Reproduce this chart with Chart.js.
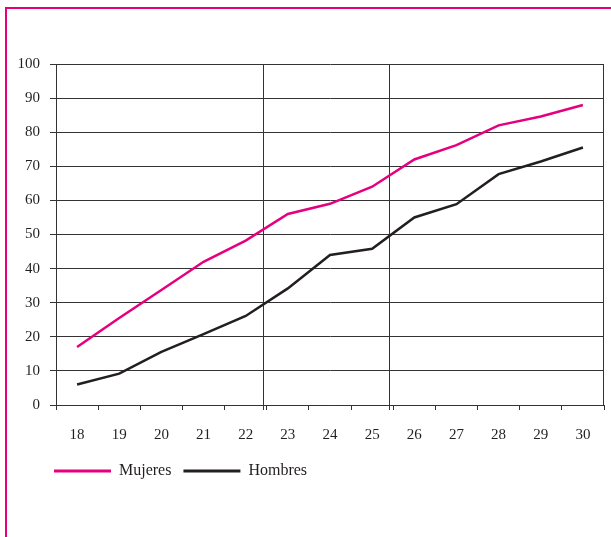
<!DOCTYPE html>
<html>
<head>
<meta charset="utf-8">
<script src="https://cdn.jsdelivr.net/npm/chart.js@4"></script>
<style>
  html, body { margin: 0; padding: 0; background: #fff; overflow: hidden; }
  #frame { position: absolute; left: 5px; top: 7px; width: 700px; height: 600px;
           border-top: 2px solid #e6007e; border-left: 2px solid #e6007e; }
  #c { position: absolute; left: 0; top: 0; }
</style>
</head>
<body>
<div id="frame"></div>
<canvas id="c" width="611" height="537"></canvas>
<script>
// edades
const labels = ['18', '19', '20', '21', '22', '23', '24', '25', '26', '27', '28', '29', '30'];
// porcentajes
const mujeres = [17, 25.5, 33.7, 42, 48.2, 56, 59, 64, 72, 76.2, 82, 84.6, 88];
const hombres = [6, 9.2, 15.6, 20.8, 26.1, 34.2, 44, 45.8, 55, 58.9, 67.7, 71.4, 75.5];
// separadores verticales despues de estas edades
const cortes = ['22', '25'];

const gridColor = '#333';
const font = { family: '"Liberation Serif", "DejaVu Serif", serif', size: 15 };

const extras = {
  id: 'extras',
  afterLayout(chart) {
    // la leyenda empieza casi bajo el eje y
    chart.legend.left += 42;
  },
  beforeDatasetsDraw(chart) {
    const { ctx, chartArea: a, scales: { x } } = chart;
    ctx.save();
    ctx.strokeStyle = gridColor;
    ctx.lineWidth = 1;
    cortes.forEach(l => {
      const px = Math.round(x.getPixelForValue(labels.indexOf(l) + 0.4)) + 0.5;
      ctx.beginPath();
      ctx.moveTo(px, a.top);
      ctx.lineTo(px, a.bottom + 5);
      ctx.stroke();
    });
    const r = Math.round(a.right) - 0.5;
    ctx.beginPath();
    ctx.moveTo(r, a.top);
    ctx.lineTo(r, a.bottom);
    ctx.stroke();
    ctx.restore();
  }
};

new Chart(document.getElementById('c'), {
  type: 'line',
  data: {
    labels: labels,
    datasets: [
      { label: 'Mujeres', data: mujeres, borderColor: '#e6007e', backgroundColor: '#e6007e',
        borderWidth: 2.5, pointRadius: 0, tension: 0 },
      { label: 'Hombres', data: hombres, borderColor: '#231f20', backgroundColor: '#231f20',
        borderWidth: 2.5, pointRadius: 0, tension: 0 }
    ]
  },
  options: {
    responsive: false,
    animation: false,
    layout: { padding: { left: 0, top: 64, right: 7, bottom: 48 } },
    plugins: {
      tooltip: { enabled: false },
      legend: {
        position: 'bottom',
        align: 'start',
        labels: {
          boxWidth: 57,
          boxHeight: 3,
          padding: 12,
          color: '#231f20',
          font: { family: font.family, size: 16 },
          generateLabels(chart) {
            return Chart.defaults.plugins.legend.labels.generateLabels(chart)
              .map(l => ({ ...l, lineWidth: 0, fillStyle: l.strokeStyle }));
          }
        }
      }
    },
    scales: {
      x: {
        offset: true,
        grid: { offset: true, drawOnChartArea: false, drawTicks: true, tickLength: 5, color: gridColor },
        border: { color: gridColor, width: 1 },
        ticks: { color: '#231f20', font: font, padding: 16, maxRotation: 0 },
        afterFit(s) { s.height = 46; }
      },
      y: {
        min: 0,
        max: 100,
        grid: { color: gridColor, tickLength: 6 },
        border: { color: gridColor, width: 1 },
        ticks: { stepSize: 10, color: '#231f20', font: font, padding: 10 },
        afterFit(s) { s.width = 56; }
      }
    }
  },
  plugins: [extras]
});
</script>
</body>
</html>
